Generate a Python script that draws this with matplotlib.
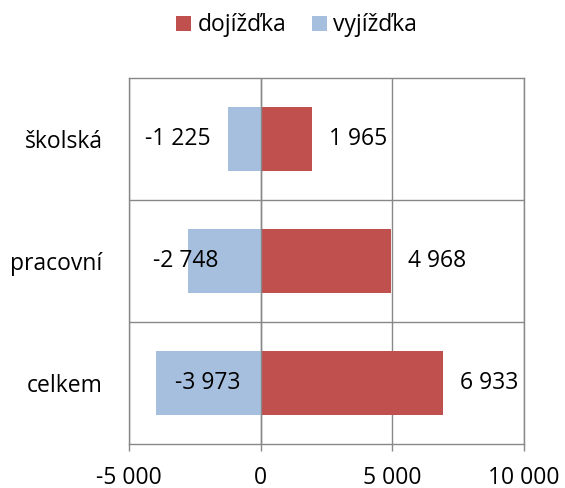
import matplotlib.pyplot as plt
from matplotlib.ticker import FixedLocator
import numpy as np

plt.rcParams['font.family'] = ['Open Sans', 'DejaVu Sans']

categories = ['školská', 'pracovní', 'celkem']
dojizdka = [1965, 4968, 6933]
vyjizdka = [-1225, -2748, -3973]
xticks = [-5000, 0, 5000, 10000]

# label centres (data units), hand-placed like in the original
pos_label_x = [3690, 6710, 8670]
neg_label_x = [-3150, -2850, -2010]

grid_c = '#888888'
red = '#C0504D'
blue = '#A7BFDE'
fs = 16.5


def fmt(v):
    s = '{:,}'.format(abs(v)).replace(',', ' ')
    return ('-' if v < 0 else '') + s


fig = plt.figure(figsize=(5.65, 4.88), dpi=100)
ax = fig.add_axes([0.2283, 0.0902, 0.9274 - 0.2283, 0.8402 - 0.0902])

ind = np.arange(len(categories))
h = 0.53
b1 = ax.barh(ind, dojizdka, h, color=red, zorder=3, label='dojížďka')
b2 = ax.barh(ind, vyjizdka, h, color=blue, zorder=3, label='vyjížďka')

for i in ind:
    ax.text(pos_label_x[i], i, fmt(dojizdka[i]), ha='center', va='center',
            fontsize=fs, zorder=4)
    ax.text(neg_label_x[i], i, fmt(vyjizdka[i]), ha='center', va='center',
            fontsize=fs, zorder=4)

ax.set_xlim(-5000, 10000)
ax.set_ylim(len(categories) - 0.5, -0.5)
ax.set_xticks(xticks)
ax.set_xticklabels([fmt(v) for v in xticks], fontsize=fs)
ax.set_yticks(ind)
ax.set_yticklabels(categories, fontsize=fs)
ax.yaxis.set_minor_locator(FixedLocator(ind[:-1] + 0.5))

ax.tick_params(axis='x', direction='out', length=5, width=1.0, color=grid_c, pad=11)
ax.tick_params(axis='y', which='both', length=0, pad=19)
ax.grid(axis='x', color=grid_c, linewidth=1.0, zorder=1)
ax.grid(axis='y', which='minor', color=grid_c, linewidth=1.0, zorder=1)
ax.set_axisbelow(True)
for sp in ax.spines.values():
    sp.set_color(grid_c)
    sp.set_linewidth(1.0)
ax.axvline(0, color=grid_c, linewidth=1.0, zorder=5)

fig.legend(handles=[b1, b2], loc='center', bbox_to_anchor=(0.525, 0.948), ncol=2,
           frameon=False, fontsize=fs, handlelength=0.65, handleheight=0.65,
           handletextpad=0.3, columnspacing=1.1)

fig.savefig('out.png', dpi=100)
